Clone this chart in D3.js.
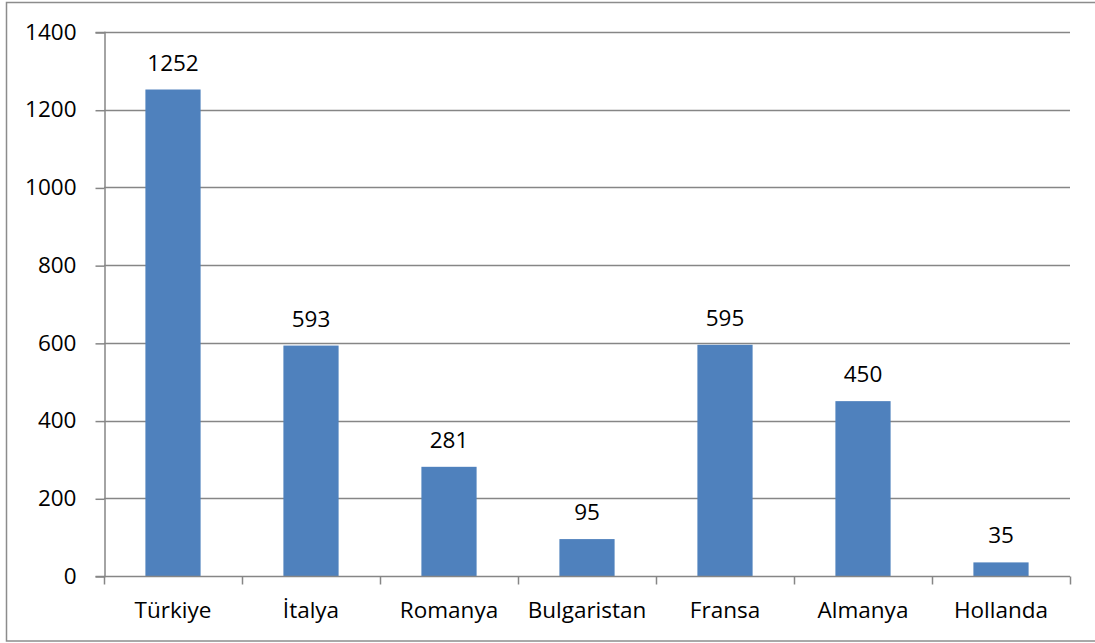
<!DOCTYPE html>
<html>
<head>
<meta charset="utf-8">
<script src="https://cdn.jsdelivr.net/npm/d3@7"></script>
<style>
  html, body { margin: 0; padding: 0; background: #ffffff; }
  svg { display: block; }
  text { font-family: "Open Sans", "Liberation Sans", sans-serif; fill: #000; }
</style>
</head>
<body>
<svg id="chart" width="1095" height="643"></svg>
<script>
// Countries and counts
const categories = ["Türkiye", "İtalya", "Romanya", "Bulgaristan", "Fransa", "Almanya", "Hollanda"];
const values = [1252, 593, 281, 95, 595, 450, 35];
const yTicks = [0, 200, 400, 600, 800, 1000, 1200, 1400];

const W = 1095, H = 643;
const plot = { left: 104, right: 1070, top: 32, bottom: 576 };
const gridColor = "#868686";
const barColor = "#4F81BD";
const fontSize = 22.5;

const svg = d3.select("#chart");

// Outer chart frame
svg.append("rect")
  .attr("x", 6.5).attr("y", 2.5)
  .attr("width", W + 10).attr("height", 638.5)
  .attr("fill", "none")
  .attr("stroke", "#8c8c8c")
  .attr("stroke-width", 1.5);

const x = d3.scaleBand()
  .domain(categories)
  .range([plot.left, plot.right])
  .paddingInner(0.6)
  .paddingOuter(0.3);

const xOuter = d3.scaleBand()
  .domain(categories)
  .range([plot.left, plot.right])
  .padding(0);

const y = d3.scaleLinear()
  .domain([0, 1400])
  .range([plot.bottom, plot.top]);

// Horizontal gridlines
svg.append("g")
  .selectAll("line")
  .data(yTicks.filter(d => d > 0))
  .join("line")
  .attr("x1", plot.left).attr("x2", plot.right)
  .attr("y1", d => Math.round(y(d)) + 0.5)
  .attr("y2", d => Math.round(y(d)) + 0.5)
  .attr("stroke", gridColor)
  .attr("stroke-width", 1.5);

// Y axis
const yAxis = d3.axisLeft(y)
  .tickValues(yTicks)
  .tickSize(9)
  .tickPadding(19)
  .tickFormat(d3.format("d"));

const gy = svg.append("g")
  .attr("transform", `translate(${plot.left + 0.5},0)`)
  .call(yAxis);
gy.selectAll(".domain").attr("stroke", gridColor).attr("stroke-width", 1.5);
gy.selectAll(".tick line").attr("stroke", gridColor).attr("stroke-width", 1.5)
  .attr("transform", "translate(0,0.5)");
gy.selectAll(".tick text")
  .attr("font-size", fontSize)
  .attr("font-family", "'Open Sans', 'Liberation Sans', sans-serif")
  .attr("fill", "#000");

// Bars
svg.append("g")
  .selectAll("rect")
  .data(values)
  .join("rect")
  .attr("x", (d, i) => x(categories[i]))
  .attr("width", x.bandwidth())
  .attr("y", d => y(d))
  .attr("height", d => y(0) - y(d))
  .attr("fill", barColor);

// X axis with tick marks at category boundaries
const gx = svg.append("g")
  .attr("transform", `translate(0,${Math.round(plot.bottom) + 0.5})`);
gx.append("line")
  .attr("x1", plot.left).attr("x2", plot.right)
  .attr("stroke", gridColor).attr("stroke-width", 1.5);
const boundaries = categories.map(c => xOuter(c)).concat([plot.right]);
gx.selectAll("line.tk")
  .data(boundaries)
  .join("line")
  .attr("class", "tk")
  .attr("x1", d => Math.round(d) + 0.5).attr("x2", d => Math.round(d) + 0.5)
  .attr("y1", 0).attr("y2", 8)
  .attr("stroke", gridColor).attr("stroke-width", 1.5);
gx.selectAll("text")
  .data(categories)
  .join("text")
  .attr("x", d => xOuter(d) + xOuter.bandwidth() / 2)
  .attr("y", 41)
  .attr("text-anchor", "middle")
  .attr("font-size", fontSize)
  .text(d => d);

// Value labels above bars
svg.append("g")
  .selectAll("text")
  .data(values)
  .join("text")
  .attr("x", (d, i) => x(categories[i]) + x.bandwidth() / 2)
  .attr("y", d => y(d) - 19)
  .attr("text-anchor", "middle")
  .attr("font-size", fontSize)
  .text(d => d);
</script>
</body>
</html>
